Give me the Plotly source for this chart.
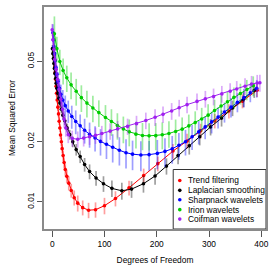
import plotly.graph_objects as go

# ---------------- data ----------------
series_names = ["Trend filtering", "Laplacian smoothing", "Sharpnack wavelets",
                "Irion wavelets", "Coifman wavelets"]
series_colors = ["#FF0000", "#000000", "#0000FF", "#00CD00", "#A020F0"]
bar_colors = ["rgba(255,0,0,0.38)", "rgba(0,0,0,0.38)", "rgba(0,0,255,0.38)",
              "rgba(0,205,0,0.38)", "rgba(160,32,240,0.38)"]

tf_df = [3.2, 3.8, 4.6, 5.1, 5.7, 6.5, 7.4, 8.3, 9.5, 10.8, 12.1, 13.3, 14.6, 15.9,
         17.5, 19.0, 20.9, 22.8, 25.0, 27.9, 31.7, 36.4, 42.1, 48.8, 58.3, 69.6, 82.9,
         100, 121, 147, 175, 202, 231, 258, 284, 311, 338, 364, 392]
tf_mse = [0.0578, 0.054, 0.0505, 0.0471, 0.044, 0.0407, 0.0376, 0.0347, 0.0321, 0.0296,
          0.0274, 0.0252, 0.0233, 0.0215, 0.0199, 0.0184, 0.017, 0.0157, 0.0145, 0.0134,
          0.0124, 0.0114, 0.0105, 0.00986, 0.00937, 0.0091, 0.00915, 0.00958, 0.0104,
          0.01175, 0.01354, 0.0155, 0.0179, 0.0201, 0.02256, 0.0253, 0.0283, 0.0317, 0.0359]
tf_se = [0.0020, 0.0019, 0.0018, 0.0017, 0.0016, 0.0015, 0.0014, 0.0013, 0.0012, 0.0012,
         0.0011, 0.0011, 0.0010, 0.0010, 0.0010, 0.0010, 0.0010, 0.0010, 0.0010, 0.0010,
         0.0010, 0.0009, 0.0009, 0.0009, 0.0008, 0.0008, 0.0008, 0.0009, 0.0009, 0.0010,
         0.0011, 0.0013, 0.0015, 0.0017, 0.0019, 0.0021, 0.0023, 0.0025, 0.0027]

ls_df = [0.4, 1.3, 2.3, 3.2, 4.2, 5.1, 6.5, 7.6, 8.9, 10.8, 12.7, 14.6, 17.5, 20.3, 24.1,
         28.8, 33.6, 39.3, 45.9, 53.5, 62.0, 71.5, 83.9, 98.1, 114.2, 133.2, 151.8, 174.6,
         196.8, 218.6, 240.8, 262.2, 282.2, 303, 324, 345, 366, 386.5]
ls_mse = [0.0578, 0.0546, 0.0516, 0.0488, 0.0461, 0.0435, 0.0411, 0.0389, 0.0367, 0.0347,
          0.0328, 0.031, 0.0289, 0.027, 0.0253, 0.0233, 0.0216, 0.0199, 0.0182, 0.0168,
          0.01534, 0.01416, 0.01315, 0.01232, 0.01168, 0.01136, 0.01158, 0.01232, 0.01346,
          0.01507, 0.017, 0.019, 0.0211, 0.0236, 0.0261, 0.0293, 0.0324, 0.0359]
ls_se = [0.0025, 0.0023, 0.0021, 0.0019, 0.0018, 0.0017, 0.0016, 0.0015, 0.0014, 0.0014,
         0.0013, 0.0013, 0.0012, 0.0012, 0.0012, 0.0012, 0.0012, 0.0012, 0.0012, 0.0012,
         0.0012, 0.0012, 0.0011, 0.0011, 0.0011, 0.0011, 0.0011, 0.0012, 0.0013, 0.0014,
         0.0016, 0.0018, 0.0020, 0.0022, 0.0024, 0.0026, 0.0028, 0.0030]

sw_df = [1.3, 2.3, 3.2, 4.6, 5.7, 7.0, 8.9, 10.8, 13.7, 16.5, 20.3, 25.0, 30.7, 37.4, 45.0,
         53.5, 62.0, 71.5, 82.0, 92.4, 103.8, 115.7, 128.5, 141.2, 153.7, 169.6, 185.4,
         201.1, 215.7, 229.6, 242.3, 255, 267.6, 280.3, 292.6, 305, 317.3, 329.6, 342,
         354.3, 366.6, 379, 391.3]
sw_mse = [0.0694, 0.064, 0.0592, 0.0546, 0.0505, 0.0466, 0.0431, 0.0398, 0.0367, 0.0343,
          0.0321, 0.0301, 0.0283, 0.0266, 0.0251, 0.0239, 0.0227, 0.0217, 0.0208, 0.02,
          0.01935, 0.0187, 0.01807, 0.01757, 0.01728, 0.01712, 0.01718, 0.01743, 0.01783,
          0.01838, 0.01913, 0.01991, 0.0211, 0.0223, 0.0236, 0.025, 0.0264, 0.028, 0.0296,
          0.0313, 0.033, 0.0349, 0.0367]
sw_se = [0.0070, 0.0064, 0.0059, 0.0055, 0.0051, 0.0047, 0.0045, 0.0043, 0.0042, 0.0040,
         0.0039, 0.0037, 0.0036, 0.0035, 0.0034, 0.0033, 0.0032, 0.0031, 0.0030, 0.0030,
         0.0030, 0.0030, 0.0029, 0.0029, 0.0029, 0.0029, 0.0029, 0.0029, 0.0029, 0.0029,
         0.0029, 0.0029, 0.0030, 0.0030, 0.0031, 0.0031, 0.0032, 0.0032, 0.0033, 0.0034,
         0.0035, 0.0036, 0.0037]

iw_df = [4.2, 8.9, 14.6, 20.9, 27.9, 36.1, 45.9, 55.8, 66.4, 77.8, 89.2, 101.9, 113.3,
         124.7, 136.1, 147.4, 160.2, 172.7, 185.4, 198.1, 210.6, 223.3, 236.1, 248.6,
         261.3, 273.6, 286, 298.3, 310.6, 323, 335.3, 347.6, 360, 372.3, 384.6]
iw_mse = [0.0686, 0.0578, 0.0499, 0.045, 0.0414, 0.0382, 0.0355, 0.033, 0.031, 0.0293,
          0.0278, 0.0263, 0.0251, 0.024, 0.02307, 0.0223, 0.02173, 0.02138, 0.02131,
          0.02136, 0.02156, 0.02188, 0.02238, 0.023, 0.02388, 0.0248, 0.02585, 0.027,
          0.0285, 0.03, 0.0315, 0.0331, 0.0346, 0.0362, 0.0378]
iw_se = [0.0150, 0.0085, 0.0072, 0.0066, 0.0062, 0.0058, 0.0054, 0.0050, 0.0047, 0.0044,
         0.0042, 0.0040, 0.0038, 0.0036, 0.0035, 0.0034, 0.0033, 0.0033, 0.0033, 0.0033,
         0.0033, 0.0033, 0.0033, 0.0033, 0.0033, 0.0034, 0.0035, 0.0036, 0.0037, 0.0038,
         0.0039, 0.0040, 0.0041, 0.0042, 0.0043]

cw_df = [0, 1.3, 3.2, 5.1, 7.6, 10.2, 13.3, 16.5, 19.7, 22.8, 26.0, 30.7, 38.3, 48.8, 60.2,
         71.5, 82.9, 94.9, 110.8, 125.2, 144.2, 161.3, 179.1, 196.8, 212, 228.5, 242.9,
         258, 277, 293, 308.7, 324.5, 340.4, 353, 368.9, 381.4, 392.2, 397.3]
cw_mse = [0.0717, 0.064, 0.0572, 0.0511, 0.0456, 0.0407, 0.0363, 0.0324, 0.0289, 0.0258,
          0.0233, 0.0216, 0.0207, 0.0205, 0.02076, 0.0211, 0.02143, 0.02188, 0.02248,
          0.02307, 0.02374, 0.0245, 0.0254, 0.02636, 0.02725, 0.0283, 0.02938, 0.03046,
          0.0316, 0.03254, 0.0334, 0.03443, 0.0355, 0.0364, 0.0376, 0.0386, 0.039, 0.0391]
cw_se = [0.0050, 0.0050, 0.0045, 0.0040, 0.0036, 0.0033, 0.0030, 0.0028, 0.0026, 0.0024,
         0.0022, 0.0020, 0.0019, 0.0019, 0.0019, 0.0019, 0.0020, 0.0020, 0.0021, 0.0022,
         0.0022, 0.0023, 0.0024, 0.0025, 0.0026, 0.0027, 0.0028, 0.0029, 0.0030, 0.0031,
         0.0032, 0.0033, 0.0034, 0.0035, 0.0036, 0.0037, 0.0038, 0.0038]

x_ticks = [0, 100, 200, 300, 400]
y_ticks = [0.01, 0.02, 0.05]
y_tick_labels = ["0.01", "0.02", "0.05"]
x_title = "Degrees of Freedom"
y_title = "Mean Squared Error"

# ---------------- figure ----------------
FONT = "Liberation Sans, Arial, Helvetica, sans-serif"
FS = 8.4

all_series = [(tf_df, tf_mse, tf_se), (ls_df, ls_mse, ls_se), (sw_df, sw_mse, sw_se),
              (iw_df, iw_mse, iw_se), (cw_df, cw_mse, cw_se)]

fig = go.Figure()
for (xs, ys, es), name, col, bcol in zip(all_series, series_names, series_colors, bar_colors):
    fig.add_trace(go.Scatter(
        x=xs, y=ys, name=name, mode="lines+markers",
        line=dict(color=col, width=1),
        marker=dict(color=col, size=3.6),
        error_y=dict(type="data", array=es, color=bcol, thickness=1.7, width=0),
        showlegend=False,
    ))

# hand-drawn R-style legend (compact rows)
leg_rows = [0.2188, 0.1741, 0.1317, 0.0871, 0.0446]
fig.add_trace(go.Scatter(
    x=[0.6116] * len(series_names), y=leg_rows, xaxis="x2", yaxis="y2",
    mode="markers", marker=dict(color=series_colors, size=3.6),
    showlegend=False, hoverinfo="skip",
))
for name, yy in zip(series_names, leg_rows):
    fig.add_annotation(x=0.6406, y=yy, xref="paper", yref="paper", text=name,
                       showarrow=False, xanchor="left", yanchor="middle",
                       font=dict(size=FS, color="#000000", family=FONT))
fig.add_shape(type="rect", xref="paper", yref="paper", x0=0.582, x1=1.0, y0=0.0, y1=0.268,
              line=dict(color="#333333", width=1), fillcolor="rgba(0,0,0,0)", layer="below")

fig.update_layout(
    width=274, height=274,
    margin=dict(l=44, r=6, t=5, b=45),
    paper_bgcolor="white", plot_bgcolor="white",
    font=dict(family=FONT, size=FS, color="#000000"),
    xaxis=dict(range=[-15.7, 409], tickvals=x_ticks, ticks="outside", ticklen=6,
               tickcolor="#555555", showgrid=False, zeroline=False,
               showline=True, linecolor="#8a8a8a", linewidth=1.5, mirror=True,
               title=dict(text=x_title, standoff=9, font=dict(size=FS)),
               tickfont=dict(size=FS)),
    yaxis=dict(type="log", range=[-2.1345, -1.031], tickvals=y_ticks, ticktext=y_tick_labels,
               ticks="outside", ticklen=5, tickcolor="#555555", tickangle=-90,
               showgrid=False, zeroline=False,
               showline=True, linecolor="#8a8a8a", linewidth=1.5, mirror=True,
               title=dict(text=y_title, standoff=9, font=dict(size=FS)),
               tickfont=dict(size=FS)),
    xaxis2=dict(overlaying="x", range=[0, 1], visible=False),
    yaxis2=dict(overlaying="y", range=[0, 1], visible=False),
    showlegend=False,
)

fig.write_html("out.html", config={"displayModeBar": False},
               post_script="document.body.style.margin='0';document.body.style.overflow='hidden';")
